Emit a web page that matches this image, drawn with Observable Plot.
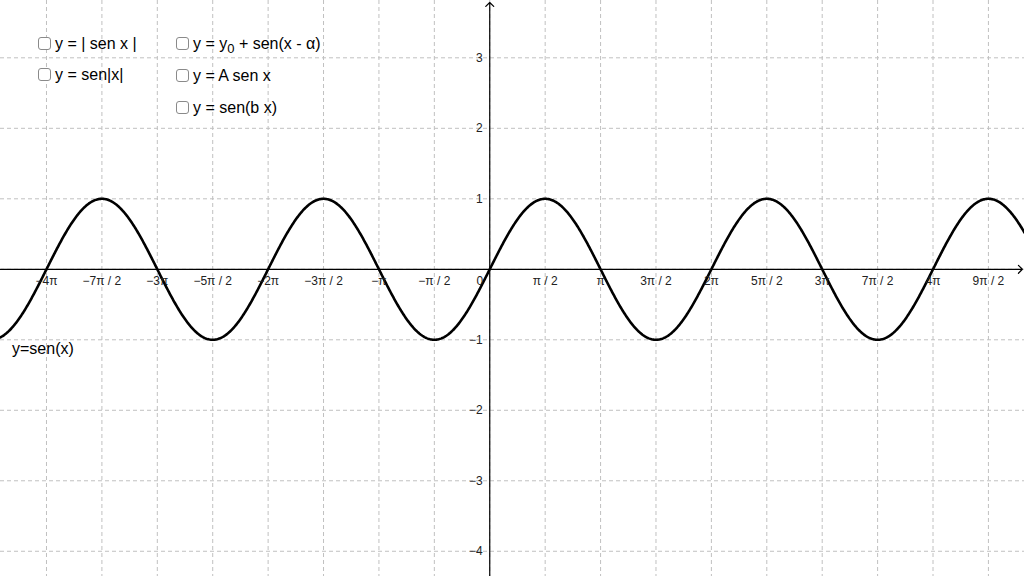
<!DOCTYPE html>
<html>
<head>
<meta charset="utf-8">
<script src="https://cdn.jsdelivr.net/npm/d3@7"></script>
<script src="https://cdn.jsdelivr.net/npm/@observablehq/plot@0.6"></script>
<style>
  html, body { margin: 0; padding: 0; background: #fff; }
  #wrap { position: relative; width: 1024px; height: 576px; overflow: hidden; font-family: "Liberation Sans", Arial, sans-serif; }
  .opt { position: absolute; font-size: 16px; color: #000; white-space: nowrap; line-height: 18px; }
  .box { display: inline-block; width: 11px; height: 11px; border: 1.3px solid #8a8a8a; border-radius: 3px; background: #fff; vertical-align: -1px; margin-right: 4px; }
  .opt sub { font-size: 13px; vertical-align: -4px; line-height: 0; }
  #fn { position: absolute; left: 12px; top: 340px; font-size: 16px; font-family: "Liberation Sans", Arial, sans-serif; }
</style>
</head>
<body>
<div id="wrap"></div>
<script>
// View window (math units)
const xDomain = [-13.87, 15.16];
const yDomain = [-4.358, 3.813];

// x ticks: multiples of pi/2
const xTickMultiples = [-8, -7, -6, -5, -4, -3, -2, -1, 1, 2, 3, 4, 5, 6, 7, 8, 9];
const xTickLabels = ["−4π", "−7π / 2", "−3π", "−5π / 2", "−2π", "−3π / 2", "−π", "−π / 2",
                     "π / 2", "π", "3π / 2", "2π", "5π / 2", "3π", "7π / 2", "4π", "9π / 2"];
const xGrid = [-8, -7, -6, -5, -4, -3, -2, -1, 0, 1, 2, 3, 4, 5, 6, 7, 8, 9];

// y ticks
const yTicks = [-4, -3, -2, -1, 1, 2, 3];
const yTickLabels = ["−4", "−3", "−2", "−1", "1", "2", "3"];
const yGrid = [-4, -3, -2, -1, 0, 1, 2, 3];

// Function plotted: y = sen(x)
const step = 0.02;
const xs = d3.range(xDomain[0], xDomain[1] + step, step);
const curve = xs.map(x => ({x, y: Math.sin(x)}));

const half = Math.PI / 2;
const xTicks = xTickMultiples.map((m, i) => ({x: m * half, label: xTickLabels[i]}));
const yTickData = yTicks.map((v, i) => ({y: v, label: yTickLabels[i]}));

const gridStyle = {stroke: "#c0c0c0", strokeWidth: 1, strokeDasharray: "4,3"};

const chart = Plot.plot({
  width: 1024,
  height: 576,
  margin: 0,
  x: {domain: xDomain, axis: null},
  y: {domain: yDomain, axis: null},
  style: {fontFamily: "Liberation Sans, Arial, sans-serif", background: "#fff"},
  marks: [
    Plot.ruleX(xGrid.map(m => m * half), gridStyle),
    Plot.ruleY(yGrid, gridStyle),
    Plot.arrow([0], {x1: xDomain[0], y1: 0, x2: 15.10, y2: 0, stroke: "#000", strokeWidth: 1.2, headLength: 7, headAngle: 90}),
    Plot.arrow([0], {x1: 0, y1: yDomain[0], x2: 0, y2: 3.785, stroke: "#000", strokeWidth: 1.2, headLength: 7, headAngle: 90}),
    Plot.line(curve, {x: "x", y: "y", stroke: "#000", strokeWidth: 2.6}),
    Plot.text(xTicks, {x: "x", y: 0, text: "label", dy: 12, fontSize: 12, fill: "#222"}),
    Plot.text([0], {x: 0, y: 0, text: () => "0", dx: -10, dy: 12, fontSize: 12, fill: "#222"}),
    Plot.text(yTickData, {x: 0, y: "y", text: "label", dx: -7, textAnchor: "end", fontSize: 12, fill: "#222"})
  ]
});

const wrap = document.getElementById("wrap");
wrap.appendChild(chart);

const options = [
  {left: 38, top: 35, html: "y = | sen x |"},
  {left: 38, top: 66, html: "y = sen|x|"},
  {left: 176, top: 35, html: "y = y<sub>0</sub> + sen(x - α)"},
  {left: 176, top: 67, html: "y = A sen x"},
  {left: 176, top: 99, html: "y = sen(b x)"}
];
for (const o of options) {
  const d = document.createElement("div");
  d.className = "opt";
  d.style.left = o.left + "px";
  d.style.top = o.top + "px";
  d.innerHTML = '<span class="box"></span>' + o.html;
  wrap.appendChild(d);
}
const fn = document.createElement("div");
fn.id = "fn";
fn.textContent = "y=sen(x)";
wrap.appendChild(fn);
</script>
</body>
</html>
